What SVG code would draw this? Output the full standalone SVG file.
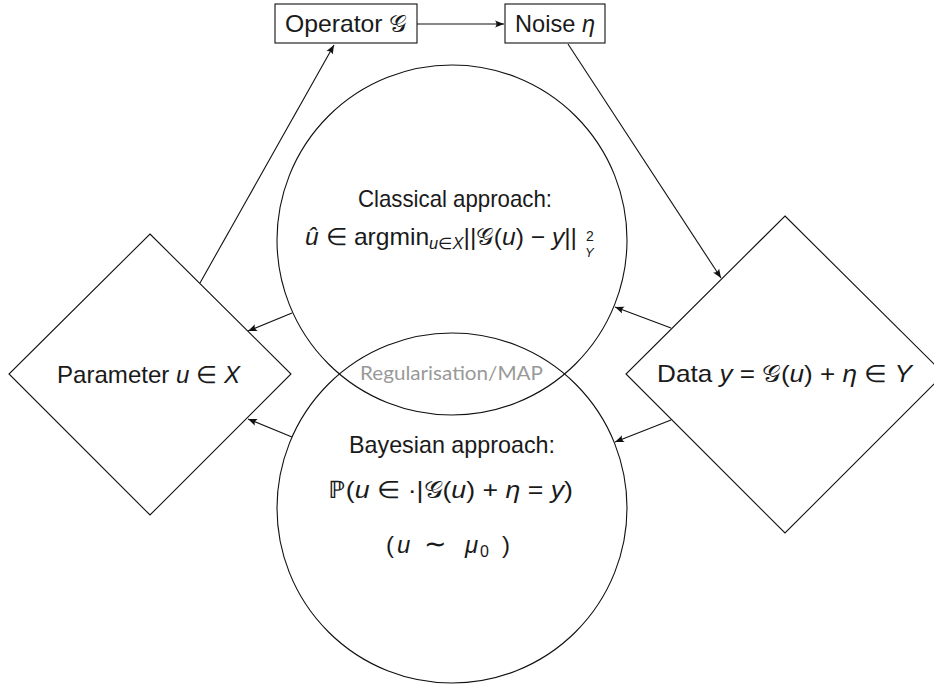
<svg xmlns="http://www.w3.org/2000/svg" width="934" height="686" viewBox="0 0 934 686">
<defs>
<style>
.ln{fill:none;stroke:#111;stroke-width:1.1}
.sh{fill:none;stroke:#111;stroke-width:1.1}
.t{font-family:"Liberation Sans",Arial,sans-serif;font-size:24px;fill:#1a1a1a}
.i{font-style:italic}
.cal{font-family:"DejaVu Serif","Noto Sans","DejaVu Sans",serif;font-style:normal}
.map{font-family:Lato,"Liberation Sans",sans-serif;font-size:19px;fill:#999}
</style>
<marker id="ah" viewBox="-10 -5 11 10" refX="0" refY="0" markerWidth="11" markerHeight="10" markerUnits="userSpaceOnUse" orient="auto">
<path d="M0,0 L-9,-3.6 Q-6,0 -9,3.6 Z" fill="#111"/>
</marker>
</defs>
<rect width="934" height="686" fill="#fff"/>
<g id="connectors">
<line class="ln" x1="200" y1="283" x2="334" y2="45" marker-end="url(#ah)"/>
<line class="ln" x1="417" y1="24" x2="504" y2="24" marker-end="url(#ah)"/>
<line class="ln" x1="568" y1="44" x2="721" y2="278" marker-end="url(#ah)"/>
<line class="ln" x1="671" y1="328" x2="615" y2="307" marker-end="url(#ah)"/>
<line class="ln" x1="671" y1="420" x2="615" y2="442" marker-end="url(#ah)"/>
<line class="ln" x1="292" y1="313" x2="248" y2="331" marker-end="url(#ah)"/>
<line class="ln" x1="292" y1="437" x2="248" y2="419" marker-end="url(#ah)"/>
</g>
<g id="operator">
<rect class="sh" x="275" y="4" width="142" height="39"/>
<text class="t" x="285" y="32" textLength="122" lengthAdjust="spacingAndGlyphs">Operator <tspan class="cal">𝒢</tspan></text>
</g>
<g id="noise">
<rect class="sh" x="505" y="4" width="100" height="39"/>
<text class="t" x="515" y="32" textLength="80" lengthAdjust="spacingAndGlyphs">Noise <tspan class="i">η</tspan></text>
</g>
<g id="classical">
<circle class="sh" cx="452" cy="240" r="175"/>
<text class="t" x="358" y="207" textLength="194" lengthAdjust="spacingAndGlyphs">Classical approach:</text>
<text class="t" x="305" y="245" textLength="272" lengthAdjust="spacingAndGlyphs"><tspan class="i">û</tspan> ∈ argmin<tspan style="font-size:16px" dy="4"><tspan class="i">u</tspan>∈<tspan class="i">X</tspan></tspan><tspan dy="-4">||</tspan><tspan class="cal">𝒢</tspan>(<tspan class="i">u</tspan>) − <tspan class="i">y</tspan>||</text>
<text class="t" x="586" y="241" style="font-size:14px">2<tspan class="i" x="585" y="257" style="font-size:13px">Y</tspan></text>
</g>
<g id="bayesian">
<circle class="sh" cx="452" cy="508" r="175"/>
<text class="t" x="349" y="453" textLength="206" lengthAdjust="spacingAndGlyphs">Bayesian approach:</text>
<text class="t" x="328" y="498" textLength="245" lengthAdjust="spacingAndGlyphs">ℙ(<tspan class="i">u</tspan> ∈ ·|<tspan class="cal">𝒢</tspan>(<tspan class="i">u</tspan>) + <tspan class="i">η</tspan> = <tspan class="i">y</tspan>)</text>
<text class="t" x="386" y="553">(<tspan class="i" x="397">u</tspan><tspan x="424" style="font-size:27px">∼</tspan><tspan class="i" x="465">μ</tspan><tspan x="480" dy="4" style="font-size:16px">0</tspan><tspan x="502" dy="-4">)</tspan></text>
</g>
<g id="overlap">
<text class="map" x="360" y="380" textLength="183" lengthAdjust="spacingAndGlyphs">Regularisation/MAP</text>
</g>
<g id="parameter">
<polygon class="sh" points="150,234 291,374 150,515 9,374"/>
<text class="t" x="57" y="383" textLength="183" lengthAdjust="spacingAndGlyphs">Parameter <tspan class="i">u</tspan> ∈ <tspan class="i">X</tspan></text>
</g>
<g id="data">
<polygon class="sh" points="785,216 944,374 785,533 626,374"/>
<text class="t" x="657" y="382" textLength="255" lengthAdjust="spacingAndGlyphs">Data <tspan class="i">y</tspan> = <tspan class="cal">𝒢</tspan>(<tspan class="i">u</tspan>) + <tspan class="i">η</tspan> ∈ <tspan class="i">Y</tspan></text>
</g>
</svg>
